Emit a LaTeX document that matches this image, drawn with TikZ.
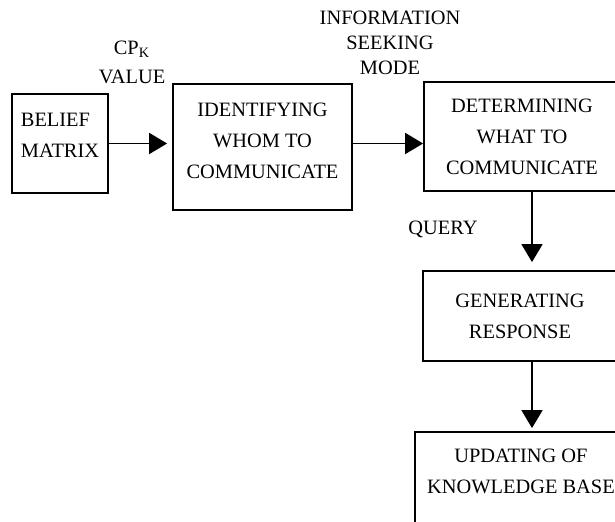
\documentclass[tikz,border=0pt]{standalone}
\usepackage{fontspec}
\setmainfont{Liberation Serif}
\usetikzlibrary{arrows.meta}
\tikzstyle{blk}=[draw=black, line width=.9pt, align=center, inner sep=0pt,
                    font=\fontsize{10.2}{15.5}\selectfont]
\tikzstyle{lbl}=[align=center, inner sep=0pt, font=\fontsize{10.2}{12.5}\selectfont]
\tikzstyle{arr}=[line width=.9pt, -{Triangle[length=9pt,width=10.5pt]}]

\begin{document}
\begin{tikzpicture}[x=.5pt, y=-.5pt]
    \useasboundingbox (0,0) rectangle (615,522);
    \clip (0,0) rectangle (615,522);
    \node[blk, align=left, minimum width=48pt, minimum height=49.5pt] (belief) at (60,143.5)
      {BELIEF\\MATRIX\\[-7.5pt]\mbox{}};
    \node[blk, minimum width=89.5pt, minimum height=63pt] (ident) at (262.5,147)
      {IDENTIFYING\\WHOM TO\\COMMUNICATE\\[-9.5pt]\mbox{}};
    \node[blk, minimum width=98pt, minimum height=54.5pt] (det) at (522,136.5)
      {DETERMINING\\WHAT TO\\COMMUNICATE};
    \node[blk, minimum width=97pt, minimum height=45pt] (gen) at (520,316)
      {GENERATING\\RESPONSE};
    \node[blk, minimum width=106pt, minimum height=53pt] (upd) at (521,485)
      {UPDATING OF\\KNOWLEDGE BASE\\[-2pt]\mbox{}};
    \node[lbl] (cpk) at (132,62) {CP\textsubscript{K}\\[2pt]VALUE};
    \node[lbl] (info) at (390,43) {INFORMATION\\SEEKING\\MODE};
    \node[lbl] (query) at (443,229) {QUERY};
    \coordinate (col) at (532,0);
    \draw[arr, shorten >=2.5pt] (belief) -- (ident.west |- belief);
    \draw[arr] (ident.east |- belief) -- (det.west |- belief);
    \draw[arr, shorten >=4pt] (det.south -| col) -- (gen.north -| col);
    \draw[arr, shorten >=1.5pt] (gen.south -| col) -- (upd.north -| col);
\end{tikzpicture}
\end{document}
